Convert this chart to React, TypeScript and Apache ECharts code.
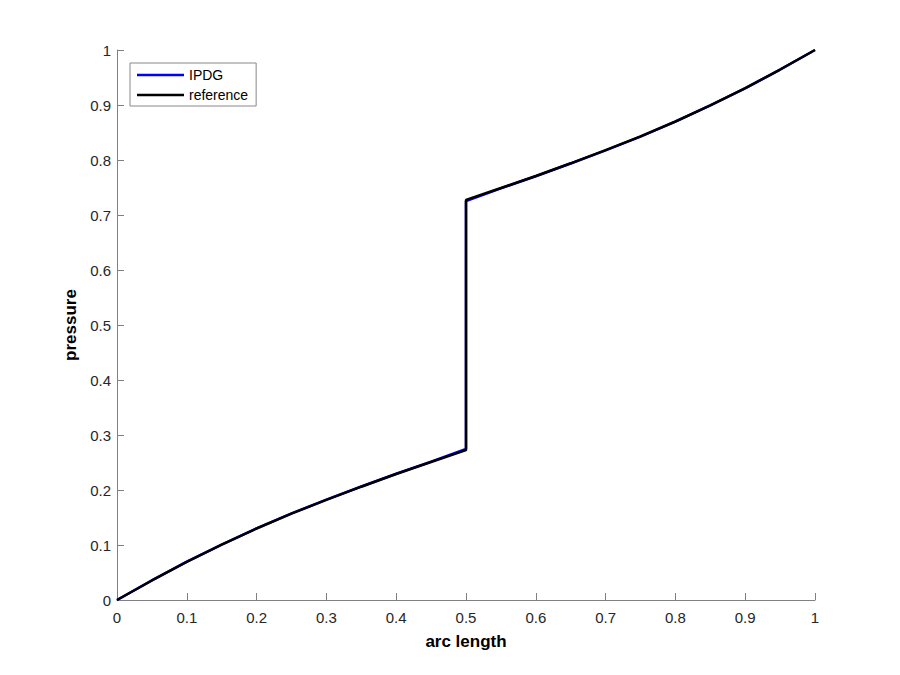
import React, { useEffect, useRef } from "react";
import * as echarts from "echarts";

const arcLength = [0, 0.05, 0.1, 0.15, 0.2, 0.25, 0.3, 0.35, 0.4, 0.45, 0.5, 0.5, 0.55, 0.6, 0.65, 0.7, 0.75, 0.8, 0.85, 0.9, 0.95, 1.0];
const referenceValues = [0, 0.0355, 0.0695, 0.1005, 0.13, 0.157, 0.182, 0.206, 0.229, 0.251, 0.2725, 0.7275, 0.749, 0.771, 0.794, 0.818, 0.843, 0.87, 0.8995, 0.9305, 0.9645, 1.0];
const ipdgValues = [0, 0.0357, 0.0698, 0.1008, 0.1304, 0.1574, 0.1826, 0.2064, 0.2295, 0.2515, 0.2748, 0.7252, 0.7485, 0.7705, 0.7936, 0.8174, 0.8426, 0.8696, 0.8992, 0.9302, 0.9643, 1.0];
const xTicks = [0, 0.1, 0.2, 0.3, 0.4, 0.5, 0.6, 0.7, 0.8, 0.9, 1];

const seriesNames = ["IPDG", "reference"];

export default function App() {
  const ref = useRef<HTMLDivElement>(null);
  useEffect(() => {
    if (!ref.current) return;
    const chart = echarts.init(ref.current, null, { renderer: "svg" });
    const axisColor = "#808080";
    const labelColor = "#262626";
    const font = "Liberation Sans, Arial, Helvetica, sans-serif";
    const axisCommon = {
      type: "value" as const,
      min: 0,
      max: 1,
      interval: 0.1,
      axisLine: { show: true, lineStyle: { color: axisColor, width: 1 } },
      axisTick: { show: true, inside: true, length: 7, lineStyle: { color: axisColor } },
      splitLine: { show: false },
      nameLocation: "middle" as const,
      nameTextStyle: { fontSize: 17, fontWeight: "bold" as const, color: "#000", fontFamily: font },
    };
    chart.setOption({
      animation: false,
      backgroundColor: "#fff",
      grid: { left: 117, right: 85, top: 50, bottom: 75, containLabel: false },
      legend: {
        orient: "vertical",
        left: 130,
        top: 63,
        padding: [5, 8, 4, 7],
        itemGap: 6,
        itemWidth: 47,
        itemHeight: 2.5,
        icon: "rect",
        backgroundColor: "#fff",
        borderColor: "#888",
        borderWidth: 1,
        borderRadius: 0,
        textStyle: { fontSize: 14, lineHeight: 14, color: "#000", fontFamily: font },
        data: seriesNames,
      },
      xAxis: {
        ...axisCommon,
        name: "arc length",
        nameGap: 33,
        axisLabel: {
          color: labelColor,
          fontSize: 15,
          fontFamily: font,
          margin: 10,
          formatter: (v: number) => {
            const t = xTicks.find((k) => Math.abs(k - v) < 1e-9);
            return String(t !== undefined ? t : v);
          },
        },
      },
      yAxis: {
        ...axisCommon,
        name: "pressure",
        nameGap: 34,
        nameRotate: 90,
        axisLabel: {
          color: labelColor,
          fontSize: 15,
          fontFamily: font,
          margin: 6,
          formatter: (v: number) => String(Math.round(v * 10) / 10),
        },
      },
      series: [
        {
          name: seriesNames[0],
          type: "line",
          showSymbol: false,
          symbol: "none",
          color: "#0000ff",
          lineStyle: { color: "#0000ff", width: 2.5 },
          data: arcLength.map((x, i) => [x, ipdgValues[i]]),
          z: 2,
        },
        {
          name: seriesNames[1],
          type: "line",
          showSymbol: false,
          symbol: "none",
          color: "#000000",
          lineStyle: { color: "#000000", width: 2.5 },
          data: arcLength.map((x, i) => [x, referenceValues[i]]),
          z: 3,
        },
      ],
    });
    return () => chart.dispose();
  }, []);
  return (
    <div
      ref={ref}
      style={{ position: "absolute", left: 0, top: 0, width: 900, height: 675 }}
    />
  );
}
